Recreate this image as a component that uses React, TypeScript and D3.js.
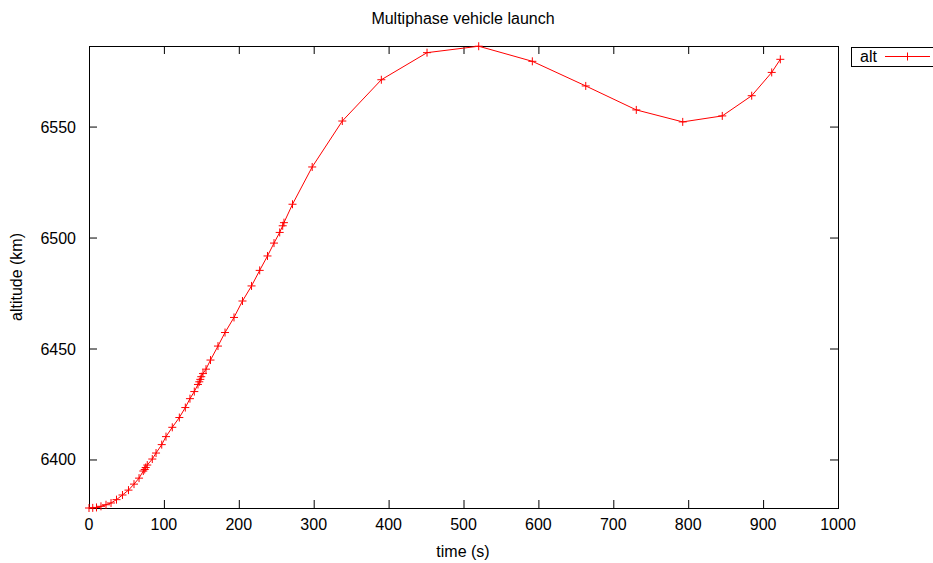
import * as d3 from 'd3';

// time (s) and altitude (km)
const times = [
  0, 5, 10, 16, 22.7, 29.4, 36.7, 44.7, 52.7, 60.1, 66.8, 72.5, 74.4, 75.7, 77.8,
  84.5, 89.5, 97.1, 102.8, 111.2, 120.6, 128.6, 134.8, 140.6, 145.5, 147.3, 148.6,
  149.9, 152.2, 156.2, 162.2, 172.2, 181.6, 193.6, 204.9, 217, 227.9, 238.3, 247,
  254.6, 258.6, 260.3, 271.7, 298, 338.2, 390.3, 451.3, 520.3, 591.9, 663.2, 730.7,
  792.7, 845.5, 884.8, 911.5, 923,
];
const altitudes = [
  6378.14, 6378.2, 6378.4, 6378.9, 6379.6, 6380.4, 6381.9, 6384.0, 6386.2, 6388.9,
  6391.6, 6394.8, 6395.5, 6396.4, 6397.5, 6400.2, 6402.9, 6406.7, 6410.3, 6414.5,
  6418.9, 6423.4, 6427.4, 6430.6, 6433.8, 6435.0, 6436.1, 6437.3, 6438.7, 6440.7,
  6444.8, 6451.1, 6457.2, 6464.0, 6471.4, 6478.2, 6485.2, 6491.7, 6497.5, 6502.3,
  6505.3, 6506.7, 6515.0, 6531.8, 6552.5, 6571.1, 6583.3, 6586.2, 6579.4, 6568.3,
  6557.5, 6552.1, 6554.8, 6563.9, 6574.4, 6580.3,
];
const xTicks = [0, 100, 200, 300, 400, 500, 600, 700, 800, 900, 1000];
const yTicks = [6400, 6450, 6500, 6550];

const width = 933;
const height = 563;
const left = 89;
const right = 838;
const top = 46;
const bottom = 508;
const font = '"Liberation Sans", Arial, sans-serif';

export default function App() {
  const x = d3.scaleLinear().domain([0, 1000]).range([left, right]);
  const y = d3.scaleLinear().domain([6378.14, 6586.3]).range([bottom, top]);

  const pts: [number, number][] = times.map((t, i) => [t, altitudes[i]]);
  const line = d3
    .line<[number, number]>()
    .x((d) => x(d[0]))
    .y((d) => y(d[1]));

  const plus = (cx: number, cy: number) => `M${cx - 4},${cy}h8M${cx},${cy - 4}v8`;
  const tk = 8;

  return (
    <div style={{ position: 'absolute', left: 0, top: 0 }}>
      <svg width={width} height={height} fontFamily={font} fontSize={16}>
        <rect width={width} height={height} fill="#fff" />
        <text x={463} y={24} textAnchor="middle" fill="#000">
          Multiphase vehicle launch
        </text>

        {/* ticks, mirrored on all four sides */}
        <g stroke="#000" strokeWidth={1}>
          {xTicks.map((t) => (
            <g key={t}>
              <line x1={x(t) + 0.5} x2={x(t) + 0.5} y1={bottom} y2={bottom - tk} />
              <line x1={x(t) + 0.5} x2={x(t) + 0.5} y1={top} y2={top + tk} />
            </g>
          ))}
          {yTicks.map((v) => (
            <g key={v}>
              <line x1={left} x2={left + tk} y1={y(v) + 0.5} y2={y(v) + 0.5} />
              <line x1={right} x2={right - tk} y1={y(v) + 0.5} y2={y(v) + 0.5} />
            </g>
          ))}
        </g>
        <rect
          x={left + 0.5}
          y={top + 0.5}
          width={right - left}
          height={bottom - top}
          fill="none"
          stroke="#000"
        />

        {xTicks.map((t) => (
          <text key={t} x={x(t)} y={530} textAnchor="middle" fill="#000">
            {t}
          </text>
        ))}
        {yTicks.map((v) => (
          <text key={v} x={76} y={y(v) + 6} textAnchor="end" fill="#000">
            {v}
          </text>
        ))}
        <text x={463} y={557} textAnchor="middle" fill="#000">
          time (s)
        </text>
        <text transform="translate(22,277) rotate(-90)" textAnchor="middle" fill="#000">
          altitude (km)
        </text>

        {/* series */}
        <path d={line(pts) ?? ''} fill="none" stroke="#ff0000" strokeWidth={1} />
        <path
          d={pts.map((d) => plus(x(d[0]), y(d[1]))).join('')}
          fill="none"
          stroke="#ff0000"
          strokeWidth={1}
        />

        {/* legend */}
        <rect x={851.5} y={47.5} width={100} height={19} fill="#fff" stroke="#000" />
        <text x={860} y={62} fill="#000">
          alt
        </text>
        <line x1={885} x2={930} y1={56.5} y2={56.5} stroke="#ff0000" />
        <path d={plus(907.5, 56.5)} stroke="#ff0000" />
      </svg>
    </div>
  );
}
